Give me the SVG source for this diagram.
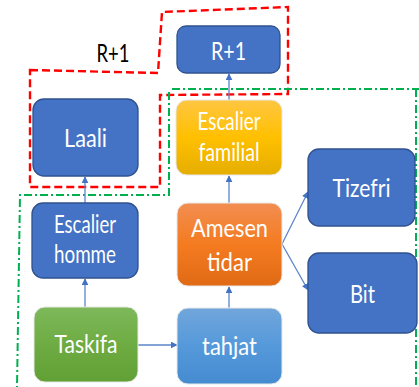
<svg xmlns="http://www.w3.org/2000/svg" width="419" height="387" viewBox="0 0 419 387">
<defs>
<style>
.t{font-family:Lato,"Open Sans","Liberation Sans",sans-serif;font-size:25px;fill:#fff;text-anchor:middle}
.b{fill:#4472C4;stroke:#2F528F;stroke-width:1.3}
.g{stroke:#E8E8E8;stroke-width:1}
.c{stroke:#5B84C8;stroke-width:1.3;fill:none;marker-end:url(#ah)}
.red{fill:none;stroke:#FF0000;stroke-width:2.4;stroke-dasharray:8 4}
.grn{fill:none;stroke:#00B050;stroke-width:2;stroke-dasharray:8 3 2 3}
</style>
<marker id="ah" viewBox="0 0 10 10" refX="9" refY="5" markerWidth="7" markerHeight="7" markerUnits="userSpaceOnUse" orient="auto"><path d="M0,0L10,5L0,10Z" fill="#4472C4"/></marker>
<linearGradient id="gold" x1="0" y1="0" x2="0" y2="1"><stop offset="0" stop-color="#FFC642"/><stop offset="0.5" stop-color="#FFC000"/><stop offset="1" stop-color="#E5AD00"/></linearGradient>
<linearGradient id="orng" x1="0" y1="0" x2="0" y2="1"><stop offset="0" stop-color="#F28E52"/><stop offset="0.5" stop-color="#F47B20"/><stop offset="1" stop-color="#E06A15"/></linearGradient>
<linearGradient id="lblu" x1="0" y1="0" x2="0" y2="1"><stop offset="0" stop-color="#71A6DB"/><stop offset="0.5" stop-color="#5599DA"/><stop offset="1" stop-color="#458BD0"/></linearGradient>
<linearGradient id="grn" x1="0" y1="0" x2="0" y2="1"><stop offset="0" stop-color="#7EB85B"/><stop offset="0.5" stop-color="#6EAC43"/><stop offset="1" stop-color="#61A034"/></linearGradient>
</defs>
<rect width="419" height="387" fill="#fff"/>
<g id="regions">
<path class="red" d="M30,70 L158,73 L162,12 L288,7 L288,94 L160,95 L160,187 L30,187 Z"/>
<path class="grn" d="M172,89 L419,89 M416,89 L416,387 M169,92 L169,195 L20,195 L17,387"/>
</g>
<text x="113" y="62" textLength="33" lengthAdjust="spacingAndGlyphs" style="font-family:Lato,'Open Sans','Liberation Sans',sans-serif;font-size:25px;fill:#000;text-anchor:middle">R+1</text>
<g id="connectors">
<line class="c" x1="85" y1="203" x2="85" y2="177"/>
<line class="c" x1="85" y1="307" x2="85" y2="279"/>
<line class="c" x1="138" y1="345" x2="177" y2="345"/>
<line class="c" x1="229" y1="308" x2="229" y2="287"/>
<line class="c" x1="229" y1="203" x2="229" y2="176"/>
<line class="c" x1="229" y1="100" x2="229" y2="74"/>
<line class="c" x1="282" y1="244" x2="308" y2="192"/>
<line class="c" x1="282" y1="244" x2="308" y2="290"/>
</g>
<g id="laali"><rect class="b" x="33" y="99" width="105" height="77" rx="11"/><text class="t" x="85.5" y="147" textLength="43" lengthAdjust="spacingAndGlyphs">Laali</text></g>
<g id="r1"><rect class="b" x="177" y="26" width="103" height="47" rx="9"/><text class="t" x="228.5" y="60" textLength="35" lengthAdjust="spacingAndGlyphs">R+1</text></g>
<g id="escalier-familial"><rect class="g" fill="url(#gold)" x="176" y="100" width="106" height="75" rx="11"/><text class="t" x="229" y="130" textLength="63" lengthAdjust="spacingAndGlyphs">Escalier</text><text class="t" x="229" y="161" textLength="61" lengthAdjust="spacingAndGlyphs">familial</text></g>
<g id="escalier-homme"><rect class="b" x="32" y="203" width="106" height="75" rx="11"/><text class="t" x="85" y="233" textLength="62" lengthAdjust="spacingAndGlyphs">Escalier</text><text class="t" x="85" y="263" textLength="62" lengthAdjust="spacingAndGlyphs">homme</text></g>
<g id="amesen"><rect class="g" fill="url(#orng)" x="177" y="203" width="105" height="83" rx="11"/><text class="t" x="229.5" y="237" textLength="77" lengthAdjust="spacingAndGlyphs">Amesen</text><text class="t" x="229.5" y="271" textLength="45" lengthAdjust="spacingAndGlyphs">tidar</text></g>
<g id="tizefri"><rect class="b" x="308" y="149" width="107" height="77" rx="11"/><text class="t" x="361.5" y="197" textLength="58" lengthAdjust="spacingAndGlyphs">Tizefri</text></g>
<g id="bit"><rect class="b" x="308" y="253" width="109" height="80" rx="11"/><text class="t" x="362.5" y="303" textLength="25" lengthAdjust="spacingAndGlyphs">Bit</text></g>
<g id="taskifa"><rect class="g" fill="url(#grn)" x="34" y="307" width="104" height="75" rx="11"/><text class="t" x="86" y="353" textLength="63" lengthAdjust="spacingAndGlyphs">Taskifa</text></g>
<g id="tahjat"><rect class="g" fill="url(#lblu)" x="177" y="308" width="105" height="76" rx="11"/><text class="t" x="229.5" y="355" textLength="55" lengthAdjust="spacingAndGlyphs">tahjat</text></g>
</svg>
